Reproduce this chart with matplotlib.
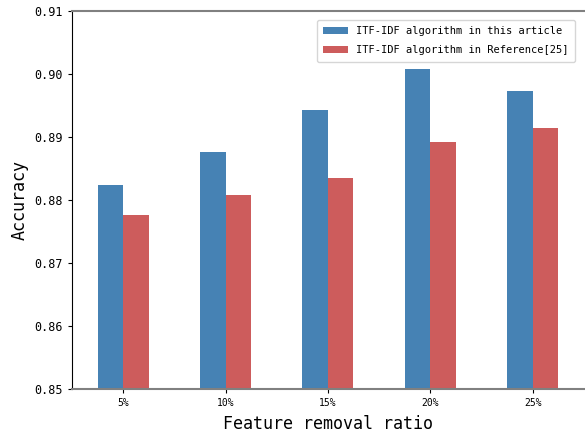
import numpy as np
import matplotlib.pyplot as plt

# feature removal ratio categories
ratios = ['5%', '10%', '15%', '20%', '25%']

# accuracy values
acc_this = [0.8824, 0.8876, 0.8943, 0.9007, 0.8973]
acc_ref = [0.8776, 0.8807, 0.8834, 0.8892, 0.8914]

plt.rcParams['font.family'] = ['DejaVu Sans Mono']

fig = plt.figure(figsize=(5.85, 4.34), dpi=100)
ax = fig.add_axes([0.123, 0.104, 0.875, 0.871])

x = np.arange(len(ratios))
w = 0.25

ax.bar(x - w / 2, acc_this, w, color='#4682B4', label='ITF-IDF algorithm in this article')
ax.bar(x + w / 2, acc_ref, w, color='#CD5C5C', label='ITF-IDF algorithm in Reference[25]')

ax.set_xlim(-0.5, 4.5)
ax.set_ylim(0.85, 0.91)
ax.set_yticks(np.arange(0.85, 0.9101, 0.01))
ax.set_yticklabels(['0.85', '0.86', '0.87', '0.88', '0.89', '0.90', '0.91'], fontsize=8.5)
ax.set_xticks(x)
ax.set_xticklabels(ratios, fontsize=7)
ax.tick_params(axis='both', length=3)

ax.set_xlabel('Feature removal ratio', fontsize=12, labelpad=5)
ax.set_ylabel('Accuracy', fontsize=12)

for side in ['top', 'bottom']:
    ax.spines[side].set_color('#808080')
    ax.spines[side].set_linewidth(1.5)
ax.spines['right'].set_visible(False)
ax.spines['left'].set_color('black')

ax.legend(loc='upper right', fontsize=7.5, handlelength=2.4,
          labelspacing=0.9, borderpad=0.6, bbox_to_anchor=(0.993, 0.99))

plt.savefig('out.png')
